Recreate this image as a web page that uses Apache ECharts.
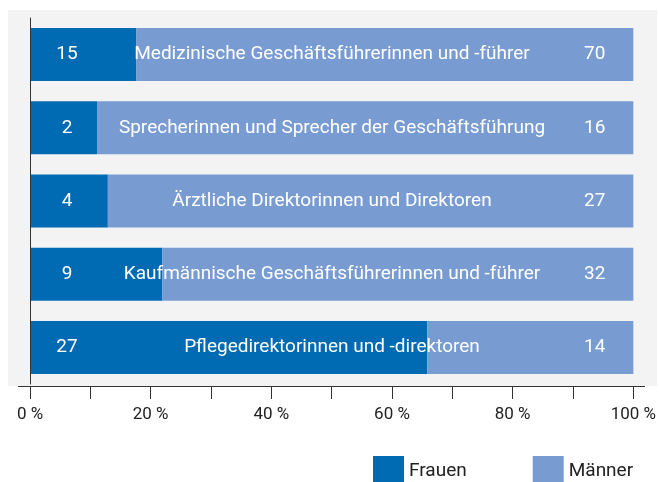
<!DOCTYPE html>
<html>
<head>
<meta charset="utf-8">
<script src="https://cdn.jsdelivr.net/npm/echarts@6/dist/echarts.min.js"></script>
<style>
    html, body {margin: 0; padding: 0; background: #fff;}
    #main {width: 659px; height: 482px;}
</style>
</head>
<body>
<div id="main"></div>
<script>
// Positionen in der Krankenhausleitung
let categories = [
    'Medizinische Geschäftsführerinnen und -führer',
    'Sprecherinnen und Sprecher der Geschäftsführung',
    'Ärztliche Direktorinnen und Direktoren',
    'Kaufmännische Geschäftsführerinnen und -führer',
    'Pflegedirektorinnen und -direktoren'
];
let frauen = [15, 2, 4, 9, 27];
let maenner = [70, 16, 27, 32, 14];
let xTicks = [0, 20, 40, 60, 80, 100];

let font = 'Roboto';

// Anteil in Prozent je Zeile
function share(a, b) {
    let out = [];
    for (let i = 0; i < a.length; i++) {
        out.push(a[i] / (a[i] + b[i]) * 100);
    }
    return out;
}

let myChart = echarts.init(document.getElementById('main'));
let option = {
    animation: false,
    textStyle: {fontFamily: font},
    graphic: [{
        type: 'rect',
        z: -10,
        shape: {x: 8, y: 10, width: 649, height: 376},
        style: {fill: '#f3f3f3'}
    }, {
        type: 'line',
        z: 5,
        shape: {x1: 18, y1: 386.5, x2: 645, y2: 386.5},
        style: {stroke: '#333', lineWidth: 1}
    }],
    legend: {
        data: ['Frauen', 'Männer'],
        left: 373,
        top: 456,
        padding: 0,
        icon: 'rect',
        itemWidth: 31,
        itemHeight: 31,
        itemGap: 66,
        textStyle: {fontFamily: font, fontSize: 19, color: '#222', padding: [8, 0, 0, 0]}
    },
    grid: {left: 30, right: 23, top: 18, bottom: 98},
    xAxis: {
        type: 'value',
        min: 0,
        max: 100,
        interval: 10,
        offset: 2,
        splitLine: {show: false},
        axisLine: {show: false},
        axisTick: {show: true, length: 13, lineStyle: {color: '#333'}},
        axisLabel: {
            margin: 20,
            color: '#222',
            fontFamily: font,
            fontSize: 17,
            formatter: function (v) {
                return xTicks.indexOf(v) >= 0 ? v + ' %' : '';
            }
        }
    },
    yAxis: {
        type: 'category',
        inverse: true,
        data: categories,
        z: 10,
        axisLine: {show: true, lineStyle: {color: '#333'}},
        axisTick: {show: false},
        axisLabel: {
            inside: true,
            margin: 302,
            align: 'center',
            color: '#fff',
            fontFamily: font,
            fontSize: 19
        }
    },
    series: [{
        name: 'Frauen',
        type: 'bar',
        stack: 'gesamt',
        barWidth: 53,
        data: share(frauen, maenner),
        itemStyle: {color: '#006ab3'},
        label: {
            show: true,
            position: [37, '50%'],
            align: 'center',
            verticalAlign: 'middle',
            color: '#fff',
            fontFamily: font,
            fontSize: 19,
            formatter: function (p) { return frauen[p.dataIndex]; }
        }
    }, {
        name: 'Männer',
        type: 'bar',
        stack: 'gesamt',
        barWidth: 53,
        data: share(maenner, frauen),
        itemStyle: {color: '#789bd2'},
        label: {
            show: true,
            position: 'insideRight',
            distance: 28,
            color: '#fff',
            fontFamily: font,
            fontSize: 19,
            formatter: function (p) { return maenner[p.dataIndex]; }
        }
    }]
};
myChart.setOption(option);
</script>
</body>
</html>
